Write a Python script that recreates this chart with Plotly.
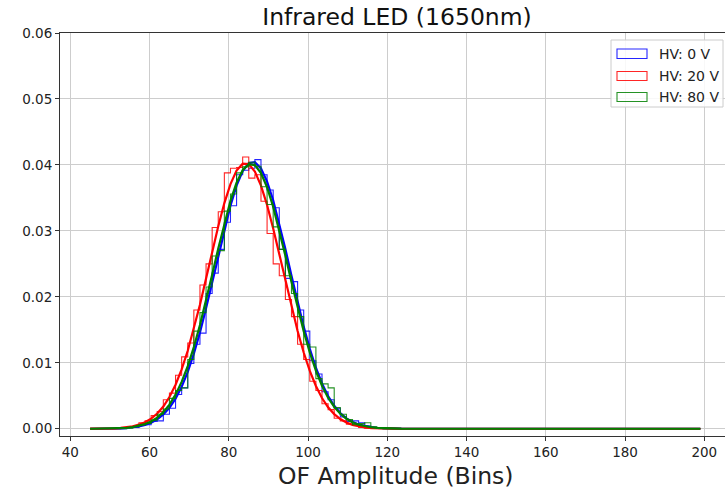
import numpy as np
import plotly.graph_objects as go

# ---------------- data ----------------
bin_lo, bin_hi, n_bins = 45.0, 199.0, 100
series_names = ["HV: 0 V", "HV: 20 V", "HV: 80 V"]
series_colors = ["#0000ff", "#ff0000", "#008000"]

# histogram densities for the first 50 bins (rest are zero)
blue_hist = [0, 0, 0, 0, 0, 0, 0.0002, 0.0002, 0.0005, 0.0006, 0.0011, 0.0012, 0.0022, 0.0031, 0.0052,
             0.0062, 0.0099, 0.0128, 0.0145, 0.0205, 0.0236, 0.0272, 0.0313, 0.0338, 0.0385, 0.0392,
             0.0395, 0.0408, 0.0385, 0.0362, 0.0335, 0.0272, 0.0228, 0.0223, 0.0180, 0.0148, 0.0103,
             0.0083, 0.0056, 0.0044, 0.0031, 0.0018, 0.0011, 0.0012, 0.0009, 0.0004, 0.0002, 0.0001, 0, 0]
red_hist = [0, 0, 0, 0, 0, 0.0001, 0.0003, 0.0004, 0.0009, 0.0012, 0.0020, 0.0026, 0.0044, 0.0054, 0.0081,
            0.0109, 0.0130, 0.0180, 0.0218, 0.0250, 0.0305, 0.0329, 0.0388, 0.0395, 0.0396, 0.0412,
            0.0380, 0.0385, 0.0345, 0.0296, 0.0250, 0.0232, 0.0196, 0.0170, 0.0128, 0.0105, 0.0072,
            0.0058, 0.0038, 0.0029, 0.0016, 0.0012, 0.0007, 0.0005, 0.0002, 0.0001, 0, 0, 0, 0]
green_hist = [0, 0, 0, 0, 0, 0, 0.0001, 0.0003, 0.0006, 0.0008, 0.0013, 0.0022, 0.0030, 0.0046, 0.0058,
              0.0062, 0.0105, 0.0148, 0.0176, 0.0215, 0.0262, 0.0270, 0.0330, 0.0356, 0.0388, 0.0397,
              0.0404, 0.0398, 0.0367, 0.0340, 0.0306, 0.0272, 0.0232, 0.0205, 0.0170, 0.0128, 0.0124,
              0.0076, 0.0068, 0.0062, 0.0032, 0.0022, 0.0014, 0.0006, 0.0008, 0.0009, 0.0003, 0.0001, 0, 0]

# fitted curves, evaluated at the first 53 bin edges (rest are zero)
blue_fit = [0.0, 0.0, 0.00001, 0.00002, 0.00004, 0.00007, 0.00012, 0.00021, 0.00035, 0.00057, 0.00092,
            0.00143, 0.00216, 0.00318, 0.00456, 0.00636, 0.00862, 0.01138, 0.01461, 0.01826, 0.02219,
            0.02625, 0.03021, 0.03383, 0.03685, 0.03906, 0.04028, 0.04042, 0.03946, 0.03748, 0.03464,
            0.03115, 0.02725, 0.02319, 0.01921, 0.01548, 0.01213, 0.00925, 0.00687, 0.00496, 0.00348,
            0.00238, 0.00158, 0.00102, 0.00065, 0.00040, 0.00024, 0.00014, 0.00008, 0.00004, 0.00002,
            0.00001, 0.0]
red_fit = [0.00001, 0.00001, 0.00002, 0.00004, 0.00007, 0.00013, 0.00022, 0.00038, 0.00062, 0.00098,
           0.00153, 0.00230, 0.00337, 0.00481, 0.00667, 0.00901, 0.01183, 0.01513, 0.01881, 0.02277,
           0.02680, 0.03070, 0.03422, 0.03710, 0.03915, 0.04019, 0.04013, 0.03900, 0.03687, 0.03392,
           0.03036, 0.02644, 0.02240, 0.01847, 0.01481, 0.01156, 0.00877, 0.00648, 0.00466, 0.00326,
           0.00222, 0.00147, 0.00095, 0.00059, 0.00036, 0.00021, 0.00012, 0.00007, 0.00004, 0.00002,
           0.00001, 0.0, 0.0]
green_fit = [0.0, 0.00001, 0.00001, 0.00003, 0.00005, 0.00009, 0.00015, 0.00026, 0.00044, 0.00070, 0.00111,
             0.00169, 0.00252, 0.00366, 0.00517, 0.00710, 0.00951, 0.01239, 0.01572, 0.01942, 0.02334,
             0.02732, 0.03113, 0.03454, 0.03729, 0.03921, 0.04013, 0.03998, 0.03878, 0.03662, 0.03366,
             0.03013, 0.02625, 0.02226, 0.01838, 0.01477, 0.01156, 0.00881, 0.00653, 0.00472, 0.00331,
             0.00227, 0.00151, 0.00098, 0.00062, 0.00038, 0.00023, 0.00013, 0.00008, 0.00004, 0.00002,
             0.00001, 0.0]

x_ticks = [40, 60, 80, 100, 120, 140, 160, 180, 200]
y_ticks = [0.00, 0.01, 0.02, 0.03, 0.04, 0.05, 0.06]
title_text = "Infrared LED (1650nm)"
xlabel_text = "OF Amplitude (Bins)"

# ---------------- figure ----------------
edges = np.linspace(bin_lo, bin_hi, n_bins + 1)

def pad(vals, n):
    return list(vals) + [0.0] * (n - len(vals))

hists = [blue_hist, red_hist, green_hist]
fits = [blue_fit, red_fit, green_fit]

W, H = 725, 491
L, R, T, B = 60, 0, 33, 55
pw, ph = W - L - R, H - T - B

fig = go.Figure()
for name, col, h, f in zip(series_names, series_colors, hists, fits):
    hv = pad(h, n_bins)
    fig.add_trace(go.Scatter(x=edges, y=hv + [hv[-1]], mode="lines", line_shape="hv",
                             line=dict(color=col, width=1.1), opacity=0.85, showlegend=False, name=name))
    fig.add_trace(go.Scatter(x=edges, y=pad(f, n_bins + 1), mode="lines",
                             line=dict(color=col, width=2.2), showlegend=False))

def px2x(px):
    return (px - L) / pw

def py2y(py):
    return (H - B - py) / ph

shapes = []
annotations = []
# legend frame
shapes.append(dict(type="rect", xref="paper", yref="paper",
                   x0=px2x(611), x1=px2x(723), y0=py2y(107), y1=py2y(40),
                   line=dict(color="#cccccc", width=1), fillcolor="rgba(255,255,255,0.85)"))
rows = [(49, 58.5, 53.8), (71.5, 80.5, 76.0), (92.5, 101.5, 97.0)]
for (t, b, c), name, col in zip(rows, series_names, series_colors):
    shapes.append(dict(type="rect", xref="paper", yref="paper",
                       x0=px2x(617), x1=px2x(647), y0=py2y(b), y1=py2y(t),
                       line=dict(color=col, width=1.1), fillcolor="rgba(0,0,0,0)", opacity=0.85))
    annotations.append(dict(xref="paper", yref="paper", x=px2x(657), y=py2y(c),
                            xanchor="left", yanchor="middle", showarrow=False, text=name,
                            font=dict(family="DejaVu Sans", size=14, color="#222")))

annotations.append(dict(xref="paper", yref="paper", x=px2x(395.5), y=py2y(476),
                        xanchor="center", yanchor="middle", showarrow=False, text=xlabel_text,
                        font=dict(family="DejaVu Sans", size=23.5, color="#222")))

fig.update_layout(
    width=W, height=H,
    margin=dict(l=L, r=R, t=T, b=B, autoexpand=False),
    paper_bgcolor="white", plot_bgcolor="white",
    title=dict(text=title_text, xref="paper", x=px2x(397), xanchor="center",
               yref="container", y=1 - 16.5 / H, yanchor="middle",
               font=dict(family="DejaVu Sans", size=23.5, color="#111")),
    shapes=shapes, annotations=annotations,
    showlegend=False,
)
fig.update_xaxes(range=[37.4, 37.4 + pw / 3.9625], tickvals=x_ticks, ticktext=[str(v) for v in x_ticks],
                 showgrid=True, gridcolor="#cdcdcd", gridwidth=1, zeroline=False,
                 showline=True, linecolor="#333", linewidth=1, mirror=True,
                 ticks="outside", ticklen=4, tickcolor="#333",
                 tickfont=dict(family="DejaVu Sans", size=13.5, color="#222"))
fig.update_yaxes(range=[-0.0011, 0.06], tickvals=y_ticks, ticktext=[f"{v:.2f}" for v in y_ticks],
                 showgrid=True, gridcolor="#cdcdcd", gridwidth=1, zeroline=False,
                 showline=True, linecolor="#333", linewidth=1, mirror=False,
                 ticks="outside", ticklen=4, tickcolor="#333",
                 tickfont=dict(family="DejaVu Sans", size=13.5, color="#222"))

fig.write_html("out.html")
